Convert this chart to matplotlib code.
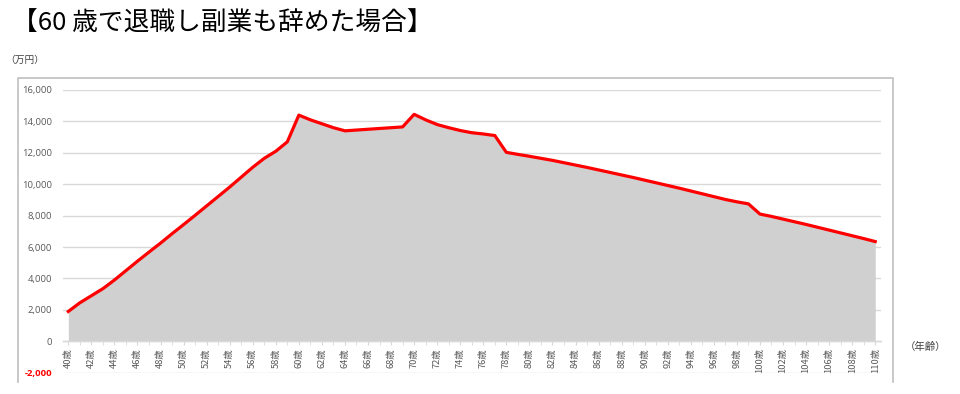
import matplotlib
matplotlib.use("Agg")
import matplotlib.pyplot as plt
from matplotlib.ticker import FuncFormatter, MultipleLocator, FixedLocator

plt.rcParams['font.family'] = ['Noto Sans CJK JP', 'DejaVu Sans']

ages = list(range(40, 111))
assets = [
    1900, 2450, 2900, 3350, 3900, 4500, 5100, 5680, 6250, 6850,   # 40-49
    7430, 8020, 8620, 9220, 9820, 10450, 11080, 11650, 12100, 12700,  # 50-59
    14400, 14100, 13850, 13600, 13400, 13450, 13500, 13550, 13600, 13650,  # 60-69
    14450, 14100, 13800, 13600, 13420, 13280, 13200, 13100, 12030, 11900,  # 70-79
    11780, 11650, 11520, 11370, 11220, 11070, 10910, 10750, 10590, 10430,  # 80-89
    10260, 10090, 9920, 9750, 9570, 9390, 9210, 9030, 8880, 8750,  # 90-99
    8100, 7950, 7780, 7610, 7440, 7260, 7080, 6900, 6720, 6540,  # 100-109
    6350,  # 110
]
label_ages = list(range(40, 111, 2))
y_ticks = list(range(-2000, 16001, 2000))

title = "【60 歳で退職し副業も辞めた場合】"
y_unit = "（万円）"
x_unit = "（年齢）"

W, H = 960, 394
fig = plt.figure(figsize=(W / 100, H / 100), dpi=100)

ax = fig.add_axes([63 / W, 1 - 372.7 / H, (881 - 63) / W, (372.7 - 90) / H])
ax.fill_between(ages, 0, assets, color='#d0d0d0', linewidth=0, zorder=2)
ax.plot(ages, assets, color='#ff0000', linewidth=2.3, zorder=3, solid_joinstyle='round')

ax.set_xlim(39.54, 110.5)
ax.set_ylim(-2000, 16000)
ax.set_yticks(y_ticks)
ax.yaxis.set_major_formatter(FuncFormatter(lambda v, p: f"{int(v):,}"))
ax.grid(axis='y', color='#d9d9d9', linewidth=1.0, zorder=0)
ax.set_axisbelow(True)

for s in ['top', 'right', 'left']:
    ax.spines[s].set_visible(False)
ax.spines['bottom'].set_position(('data', 0))
ax.spines['bottom'].set_color('#d9d9d9')
ax.spines['bottom'].set_linewidth(1.0)
ax.spines['bottom'].set_zorder(4)

ax.xaxis.set_major_locator(FixedLocator(label_ages))
ax.set_xticklabels([f"{a}歳" for a in label_ages], fontsize=6.7, color='#595959')
ax.xaxis.set_minor_locator(MultipleLocator(1))
ax.tick_params(axis='x', which='both', direction='out', length=3, color='#d9d9d9', pad=2)
ax.tick_params(axis='y', length=0, pad=8, labelsize=6.8, labelcolor='#595959')
for lbl in ax.get_yticklabels():
    lbl.set_family('Open Sans')
for t, lbl in zip(y_ticks, ax.get_yticklabels()):
    if t < 0:
        lbl.set_color('#ff0000')
        lbl.set_fontweight('bold')
for lbl in ax.get_xticklabels():
    lbl.set_rotation(90)
    lbl.set_va('top')
    lbl.set_ha('center')

# chart frame (left, top, right)
frame_color = '#bfbfbf'
fig.add_artist(plt.Line2D([18 / W, 18 / W, 893 / W, 893 / W],
                          [1 - 382 / H, 1 - 78 / H, 1 - 78 / H, 1 - 382 / H],
                          color=frame_color, linewidth=1.2, transform=fig.transFigure))

fig.text(12 / W, 1 - 24 / H, title, fontsize=18.5, va='center', ha='left', color='#000000')
fig.text(5 / W, 1 - 60 / H, y_unit, fontsize=7, va='center', ha='left', color='#404040')
fig.text(905 / W, 1 - 347 / H, x_unit, fontsize=7.5, va='center', ha='left', color='#404040')

fig.savefig("out.png", dpi=100)
